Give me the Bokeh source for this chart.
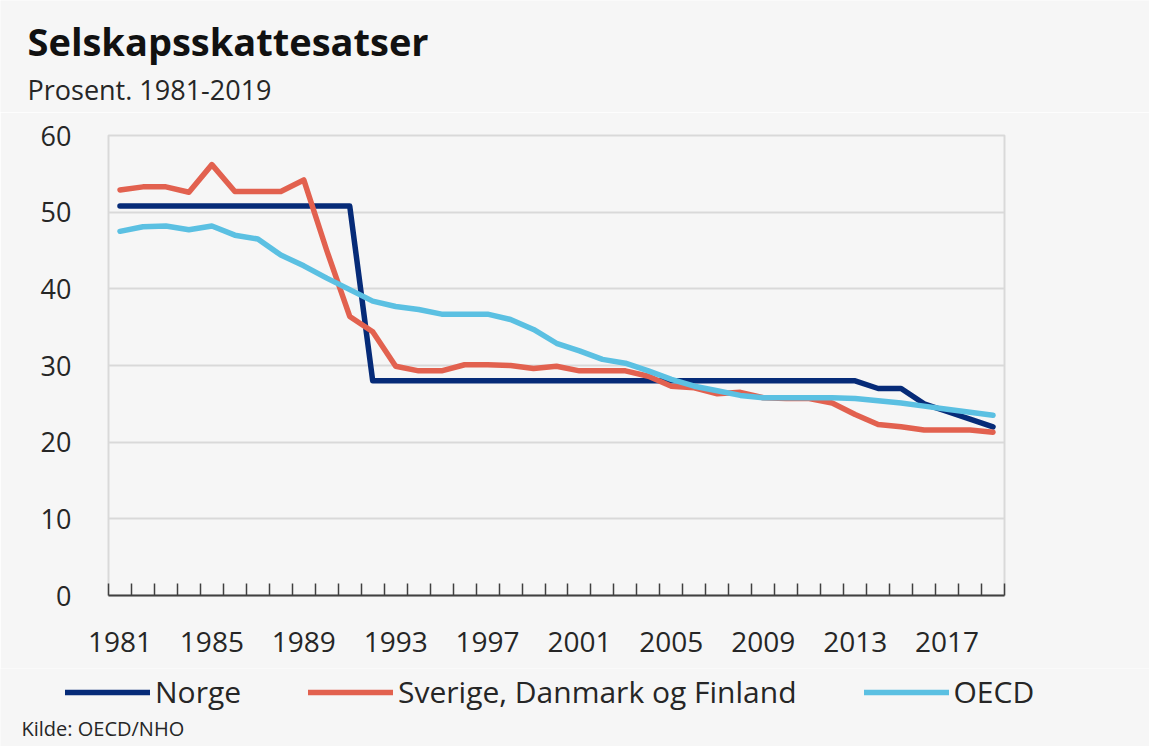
from bokeh.plotting import figure
from bokeh.models import Range1d, FixedTicker, Legend, LegendItem, Label, Plot
from bokeh.layouts import column
from bokeh.embed import file_html
from bokeh.resources import INLINE

years = [1981, 1982, 1983, 1984, 1985, 1986, 1987, 1988, 1989, 1990,
         1991, 1992, 1993, 1994, 1995, 1996, 1997, 1998, 1999, 2000,
         2001, 2002, 2003, 2004, 2005, 2006, 2007, 2008, 2009, 2010,
         2011, 2012, 2013, 2014, 2015, 2016, 2017, 2018, 2019]

norge = [50.8, 50.8, 50.8, 50.8, 50.8, 50.8, 50.8, 50.8, 50.8, 50.8,
         50.8, 28.0, 28.0, 28.0, 28.0, 28.0, 28.0, 28.0, 28.0, 28.0,
         28.0, 28.0, 28.0, 28.0, 28.0, 28.0, 28.0, 28.0, 28.0, 28.0,
         28.0, 28.0, 28.0, 27.0, 27.0, 25.0, 24.0, 23.0, 22.0]

nordic = [52.9, 53.3, 53.3, 52.6, 56.2, 52.7, 52.7, 52.7, 54.2, 45.0,
          36.4, 34.4, 29.9, 29.3, 29.3, 30.1, 30.1, 30.0, 29.6, 29.9,
          29.3, 29.3, 29.3, 28.6, 27.3, 27.1, 26.3, 26.5, 25.8, 25.7,
          25.7, 25.1, 23.6, 22.3, 22.0, 21.6, 21.6, 21.6, 21.3]

oecd = [47.5, 48.1, 48.2, 47.7, 48.2, 47.0, 46.5, 44.4, 43.0, 41.4,
        39.9, 38.4, 37.7, 37.3, 36.7, 36.7, 36.7, 36.0, 34.7, 32.9,
        31.9, 30.8, 30.3, 29.3, 28.2, 27.3, 26.7, 26.1, 25.8, 25.8,
        25.8, 25.8, 25.7, 25.4, 25.1, 24.7, 24.3, 23.9, 23.5]

series_names = ["Norge", "Sverige, Danmark og Finland", "OECD"]
tick_years = [1981, 1985, 1989, 1993, 1997, 2001, 2005, 2009, 2013, 2017]
y_ticks = [0, 10, 20, 30, 40, 50, 60]

title_text = "Selskapsskattesatser"
subtitle_text = "Prosent. 1981-2019"
source_text = "Kilde: OECD/NHO"

FONT = "Open Sans"
BG = "#f6f6f6"
TXT = "#262626"
COLORS = ["#062b78", "#e2614f", "#5bc0e2"]
W = 1149
H_HEAD, H_MAIN, H_FOOT = 112, 556, 78
HAS_FRAME_ALIGN = "frame_align" in Plot.properties()


def blank(h):
    kw = dict(output_backend="svg", toolbar_location=None, title=None,
              x_axis_type=None, y_axis_type=None,
              x_range=Range1d(0, W), y_range=Range1d(h, 0),
              min_border=0, outline_line_color=None,
              background_fill_color=BG, border_fill_color=BG)
    if HAS_FRAME_ALIGN:
        f = figure(width=W, height=h, **kw)
        f.frame_align = False
    else:
        f = figure(frame_width=W, frame_height=h, **kw)
    return f


# ---- header ----
head = blank(H_HEAD)
head.add_layout(Label(x=27, y=40, text=title_text, text_font=FONT, text_font_size="38px",
                      text_font_style="bold", text_color="#111111", text_baseline="alphabetic"))
head.add_layout(Label(x=27, y=89, text=subtitle_text, text_font=FONT, text_font_size="27px",
                      text_color=TXT, text_baseline="alphabetic"))

# ---- main chart ----
p = figure(width=W, height=H_MAIN, output_backend="svg", toolbar_location=None,
           title=None,
           x_range=Range1d(years[0] - 0.5, years[-1] + 0.5),
           y_range=Range1d(0, 60),
           min_border_left=108, min_border_right=W - 1004,
           min_border_top=135 - H_HEAD, min_border_bottom=H_HEAD + H_MAIN - 595,
           background_fill_color=BG, border_fill_color=BG,
           outline_line_color="#d9d9d9", outline_line_width=2)
if HAS_FRAME_ALIGN:
    p.frame_align = False

for vals, col in zip([norge, nordic, oecd], COLORS):
    p.line(years, vals, line_color=col, line_width=5.5, line_join="round", line_cap="round")

xa = p.xaxis[0]
minor = [y - 0.5 for y in years] + [years[-1] + 0.5]
xa.ticker = FixedTicker(ticks=tick_years, minor_ticks=minor)
xa.major_tick_line_color = None
xa.minor_tick_in = 12
xa.minor_tick_out = 0
xa.minor_tick_line_color = "#404040"
xa.minor_tick_line_width = 1.5
xa.axis_line_color = "#404040"
xa.axis_line_width = 2
xa.major_label_text_font = FONT
xa.major_label_text_font_size = "28px"
xa.major_label_text_color = TXT
xa.major_label_standoff = 30

ya = p.yaxis[0]
ya.ticker = FixedTicker(ticks=y_ticks)
ya.axis_line_color = None
ya.major_tick_line_color = None
ya.minor_tick_line_color = None
ya.major_label_text_font = FONT
ya.major_label_text_font_size = "27px"
ya.major_label_text_color = TXT
ya.major_label_standoff = 31

p.xgrid.grid_line_color = None
p.ygrid.ticker = FixedTicker(ticks=y_ticks)
p.ygrid.grid_line_color = "#d9d9d9"
p.ygrid.grid_line_width = 2

# ---- footer: legend + source ----
foot = blank(H_FOOT)
leg_renderers = []
for vals, col in zip([norge, nordic, oecd], COLORS):
    # the same series, outside the footer's visible range, so the legend can show their line style
    leg_renderers.append(foot.line(years, vals, line_color=col, line_width=5.5, line_cap="round"))

legend = Legend(items=[LegendItem(label=n, renderers=[r]) for n, r in zip(series_names, leg_renderers)],
                orientation="horizontal", location=(65, 34),
                glyph_width=85, glyph_height=20, label_standoff=5, spacing=67,
                padding=0, margin=0, border_line_color=None, background_fill_alpha=0,
                label_text_font=FONT, label_text_font_size="30px", label_text_color=TXT)
foot.add_layout(legend, "center")
foot.add_layout(Label(x=21, y=60, text=source_text, text_font=FONT, text_font_size="20px",
                      text_color=TXT, text_baseline="alphabetic"))

layout = column(head, p, foot, spacing=0)
open("out.html", "w").write(file_html(layout, INLINE))
